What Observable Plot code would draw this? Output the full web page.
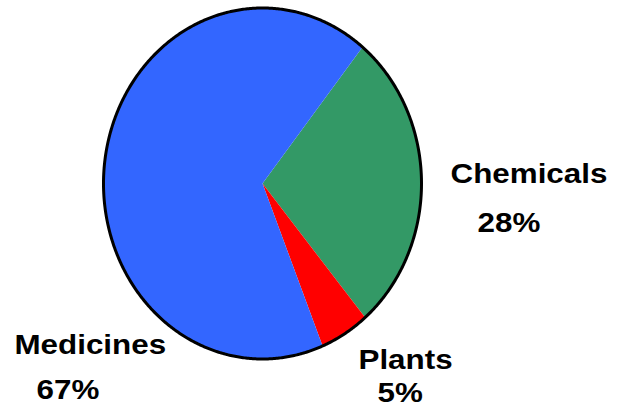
<!DOCTYPE html>
<html>
<head>
<meta charset="utf-8">
<script src="https://cdn.jsdelivr.net/npm/d3@7"></script>
<script src="https://cdn.jsdelivr.net/npm/@observablehq/plot@0.6"></script>
<style>
  html, body { margin: 0; padding: 0; background: #fff; }
  #chart svg { display: block; }
</style>
</head>
<body>
<div id="chart"></div>
<script>
// ---- data ----
const categories = ["Chemicals", "Plants", "Medicines"];
const shares = [28, 5, 67];
const colors = ["#339966", "#FF0000", "#3366FF"];

// ---- layout ----
const W = 625, H = 406;
const cx = 262, cy = 183, rx = 159, ry = 175.5;
const startDeg = 39;
const toDX = px => (px - cx) / rx;
const toDY = py => (cy - py) / ry;
const labelLayout = {
  Chemicals: {name: [450, 182], pct: [477, 231]},
  Plants:    {name: [358, 368], pct: [377, 401]},
  Medicines: {name: [14, 353],  pct: [36, 398]}
};

// slices via d3.pie (angles clockwise from top)
const pie = d3.pie().sort(null).value(d => d.v)
  .startAngle(startDeg * Math.PI / 180)
  .endAngle(startDeg * Math.PI / 180 + 2 * Math.PI);
const arcs = pie(categories.map((c, i) => ({c, v: shares[i]})));

const slicePts = [];
for (const a of arcs) {
  const name = a.data.c;
  slicePts.push({name, x: 0, y: 0});
  const n = Math.max(4, Math.ceil((a.endAngle - a.startAngle) / (Math.PI / 360)));
  for (let k = 0; k <= n; k++) {
    const t = a.startAngle + (a.endAngle - a.startAngle) * k / n;
    slicePts.push({name, x: Math.sin(t), y: Math.cos(t)});
  }
  slicePts.push({name, x: 0, y: 0});
}
const ring = d3.range(0, 721).map(k => {
  const t = k / 720 * 2 * Math.PI;
  return {x: Math.sin(t), y: Math.cos(t)};
});

const nameLabels = categories.map(c => ({
  text: c, x: toDX(labelLayout[c].name[0]), y: toDY(labelLayout[c].name[1])
}));
const pctLabels = categories.map((c, i) => ({
  text: shares[i] + "%", x: toDX(labelLayout[c].pct[0]), y: toDY(labelLayout[c].pct[1])
}));

const textOpts = {
  x: "x", y: "y", text: "text", textAnchor: "start", lineAnchor: "bottom",
  fontSize: 28, fontWeight: "bold", fill: "#000"
};

const chart = Plot.plot({
  width: W, height: H,
  margin: 0,
  style: {fontFamily: "'Liberation Sans', Arial, sans-serif", background: "#fff"},
  x: {domain: [-1, 1], range: [cx - rx, cx + rx], axis: null},
  y: {domain: [-1, 1], range: [cy + ry, cy - ry], axis: null},
  color: {domain: categories, range: colors},
  marks: [
    Plot.line(slicePts, {x: "x", y: "y", z: "name", fill: "name", stroke: "none", curve: "linear-closed"}),
    Plot.line(ring, {x: "x", y: "y", stroke: "#000", strokeWidth: 3, curve: "linear-closed"}),
    Plot.text(nameLabels, textOpts),
    Plot.text(pctLabels, textOpts)
  ]
});
document.getElementById("chart").appendChild(chart);

// horizontal stretch of the label glyphs to match reference proportions
chart.querySelectorAll("text").forEach(t => {
  const w = t.getComputedTextLength();
  t.setAttribute("textLength", (w * 1.12).toFixed(1));
  t.setAttribute("lengthAdjust", "spacingAndGlyphs");
});
</script>
</body>
</html>
